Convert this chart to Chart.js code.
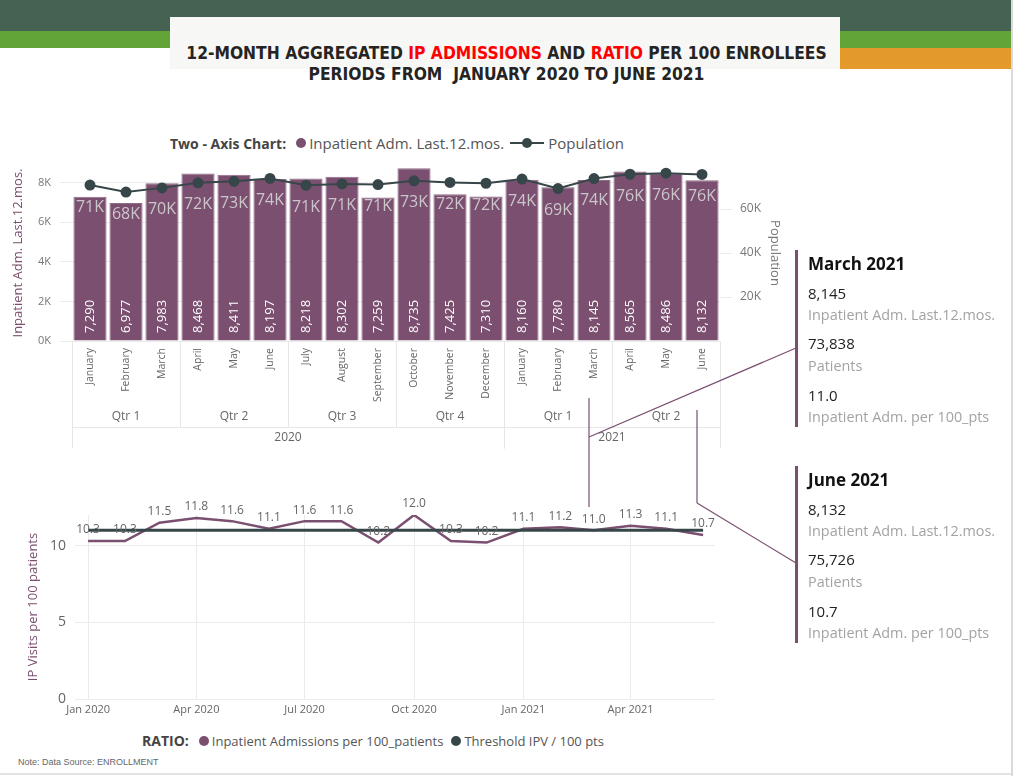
<!DOCTYPE html>
<html>
<head>
<meta charset="utf-8">
<script src="https://cdn.jsdelivr.net/npm/chart.js@4.4.1/dist/chart.umd.min.js"></script>
<style>
  body { margin: 0; width: 1013px; height: 776px; background: #fff; position: relative; overflow: hidden; font-family: "Open Sans", "Noto Sans", sans-serif; }
  .abs { position: absolute; }
  .band-dark { left: 0; top: 0; width: 1011px; height: 31px; background: #466253; }
  .band-green { left: 0; top: 31px; width: 1011px; height: 17px; background: #62a437; }
  .band-orange { left: 840px; top: 48px; width: 171px; height: 21px; background: #e39a2a; }
  .title-box { left: 170px; top: 17px; width: 670px; height: 52px; background: #f7f7f5; }
  .title { left: 0; width: 1013px; text-align: center; font-family: "Liberation Sans Narrow", "DejaVu Sans Condensed", sans-serif; font-weight: bold; font-size: 17.3px; color: #252423; white-space: nowrap; }
  .red { color: #ff0000; }
  .edge { left: 1011px; top: 0; width: 2px; height: 776px; background: #dadada; }
  .foot-line { left: 0; top: 773px; width: 1011px; height: 2px; background: #e3e3e3; }
  .legend { color: #555; white-space: nowrap; display: flex; align-items: center; }
  .legend b { color: #444; font-weight: 700; margin-right: 6px; }
  .dot { display: inline-block; width: 10px; height: 10px; border-radius: 50%; margin: 0 3px 0 4px; }
  .card-bar { width: 3px; background: #7b4f70; }
  .card-title { font-size: 17px; font-weight: 700; color: #111; white-space: nowrap; }
  .card-val { font-size: 15px; color: #222; white-space: nowrap; }
  .card-lab { font-size: 14.4px; color: #a3a3a3; white-space: nowrap; }
  .note { left: 18px; top: 757px; font-size: 9px; color: #666; font-family: "Liberation Sans", Arial, sans-serif; }
</style>
</head>
<body>
<div class="abs band-dark"></div>
<div class="abs band-green"></div>
<div class="abs band-orange"></div>
<div class="abs title-box"></div>
<div class="abs title" style="top:43px;">12-MONTH AGGREGATED <span class="red">IP ADMISSIONS</span> AND <span class="red">RATIO</span> PER 100 ENROLLEES</div>
<div class="abs title" style="top:64px;">PERIODS FROM &nbsp;JANUARY 2020 TO JUNE 2021</div>
<div class="abs edge"></div>

<div class="abs legend" style="left:170px; top:133px; font-size:15px;">
  <b style="font-size:14px;">Two - Axis Chart:</b>
  <span class="dot" style="background:#7b4f70;"></span>Inpatient Adm. Last.12.mos.
  <svg width="34" height="12" style="margin:0 4px 0 6px;"><line x1="0" y1="6" x2="34" y2="6" stroke="#374649" stroke-width="2"/><circle cx="17" cy="6" r="5" fill="#374649"/></svg>Population
</div>

<div class="abs" style="left:0; top:155px; width:790px; height:300px;"><canvas id="topChart"></canvas></div>
<div class="abs" style="left:0; top:495px; width:740px; height:230px;"><canvas id="ratioChart"></canvas></div>

<div class="abs legend" style="left:142px; top:731px; font-size:13px;">
  <b style="font-size:14px;">RATIO:</b>
  <span class="dot" style="background:#7b4f70;"></span>Inpatient Admissions per 100_patients
  <span class="dot" style="background:#374649; margin-left:8px;"></span>Threshold IPV / 100 pts
</div>
<div class="abs note">Note: Data Source: ENROLLMENT</div>
<div class="abs foot-line"></div>

<svg class="abs" style="left:0; top:0;" width="1013" height="776">
  <g stroke="#7b4f70" stroke-width="1.2" fill="none">
    <line x1="589" y1="398" x2="589" y2="507"/>
    <line x1="589" y1="437" x2="796" y2="348"/>
    <line x1="697" y1="410" x2="697" y2="503"/>
    <line x1="697" y1="503" x2="796" y2="563"/>
  </g>
</svg>

<div id="cards"></div>

<script>
// ---- data ----
const monthLabels = ['January', 'February', 'March', 'April', 'May', 'June', 'July', 'August', 'September', 'October', 'November', 'December',
                     'January', 'February', 'March', 'April', 'May', 'June'];
const monthNum = [1, 2, 3, 4, 5, 6, 7, 8, 9, 10, 11, 12, 1, 2, 3, 4, 5, 6];
const monthYear = [2020, 2020, 2020, 2020, 2020, 2020, 2020, 2020, 2020, 2020, 2020, 2020, 2021, 2021, 2021, 2021, 2021, 2021];
const monthQuarter = [1, 1, 1, 2, 2, 2, 3, 3, 3, 4, 4, 4, 1, 1, 1, 2, 2, 2];
const admissions = [7290, 6977, 7983, 8468, 8411, 8197, 8218, 8302, 7259, 8735, 7425, 7310, 8160, 7780, 8145, 8565, 8486, 8132];
const population = [70900, 67700, 69600, 71900, 72600, 73900, 70800, 71400, 71100, 72800, 72100, 71700, 73600, 69300, 73838, 75800, 76300, 75726];
const ratio = [10.3, 10.3, 11.5, 11.8, 11.6, 11.1, 11.6, 11.6, 10.2, 12.0, 10.3, 10.2, 11.1, 11.2, 11.0, 11.3, 11.1, 10.7];
const threshold = [11.0, 11.0, 11.0, 11.0, 11.0, 11.0, 11.0, 11.0, 11.0, 11.0, 11.0, 11.0, 11.0, 11.0, 11.0, 11.0, 11.0, 11.0];
const admTicks = [0, 2000, 4000, 6000, 8000];
const popTicks = [20000, 40000, 60000];
const ratioTicks = [0, 5, 10];
const dateTickMonths = [[2020, 1], [2020, 4], [2020, 7], [2020, 10], [2021, 1], [2021, 4]];
const dateTickLabels = ['Jan 2020', 'Apr 2020', 'Jul 2020', 'Oct 2020', 'Jan 2021', 'Apr 2021'];
const highlighted = [14, 17];   // March 2021, June 2021

const PURPLE = '#7b4f70';
const DARK = '#374649';
const GRID = '#ebebeb';
const FONT = '"Open Sans", "Noto Sans", sans-serif';

Chart.defaults.font.family = FONT;
Chart.defaults.animation = false;

function dayIndex(y, m) {
    return (Date.UTC(y, m - 1, 1) - Date.UTC(2020, 0, 1)) / 86400000;
}
function kFmt(v) { return Math.round(v / 1000) + 'K'; }
// keep the plot box where we put it
function noPad(s) { s.paddingTop = 0; s.paddingBottom = 0; s.paddingLeft = 0; s.paddingRight = 0; }

// ---- top chart: bars + population line ----
const barLabels = {
    id: 'barLabels',
    afterDatasetsDraw(chart) {
        const ctx = chart.ctx;
        const area = chart.chartArea;
        const bars = chart.getDatasetMeta(0).data;
        const pts = chart.getDatasetMeta(1).data;
        ctx.save();
        ctx.font = '13px ' + FONT;
        ctx.fillStyle = '#ffffff';
        ctx.textAlign = 'left';
        ctx.textBaseline = 'middle';
        bars.forEach((b, i) => {
            ctx.save();
            ctx.translate(b.x, area.bottom - 8);
            ctx.rotate(-Math.PI / 2);
            ctx.fillText(admissions[i].toLocaleString('en-US'), 0, 0);
            ctx.restore();
        });
        ctx.font = '16px ' + FONT;
        ctx.fillStyle = '#cbc6ca';
        ctx.textAlign = 'center';
        pts.forEach((p, i) => {
            ctx.fillText(kFmt(population[i]), p.x, p.y + 22);
        });
        ctx.restore();
    }
};

const hierarchyAxis = {
    id: 'hierarchyAxis',
    afterDraw(chart) {
        const ctx = chart.ctx;
        const x = chart.scales.x;
        const area = chart.chartArea;
        const half = (x.getPixelForValue(1) - x.getPixelForValue(0)) / 2;
        const top = area.bottom;
        const qBottom = top + 86;
        const yBottom = top + 107;
        ctx.save();
        ctx.strokeStyle = '#e6e6e6';
        ctx.lineWidth = 1;
        ctx.fillStyle = '#666';
        ctx.font = '12px ' + FONT;
        ctx.textAlign = 'center';
        ctx.textBaseline = 'middle';
        const groups = (keyFn) => {
            const out = [];
            monthLabels.forEach((m, i) => {
                const k = keyFn(i);
                if (out.length && out[out.length - 1].key === k) out[out.length - 1].end = i;
                else out.push({ key: k, start: i, end: i });
            });
            return out;
        };
        const qs = groups(i => monthYear[i] + '-' + monthQuarter[i]);
        const ys = groups(i => monthYear[i]);
        const line = (x1, y1, x2, y2) => {
            ctx.beginPath();
            ctx.moveTo(Math.round(x1) + 0.5, Math.round(y1) + 0.5);
            ctx.lineTo(Math.round(x2) + 0.5, Math.round(y2) + 0.5);
            ctx.stroke();
        };
        qs.forEach(g => {
            const l = x.getPixelForValue(g.start) - half;
            const r = x.getPixelForValue(g.end) + half;
            line(l, top, l, qBottom);
            line(r, top, r, qBottom);
            ctx.fillText('Qtr ' + monthQuarter[g.start], (l + r) / 2, top + 76);
        });
        line(area.left, qBottom, area.right, qBottom);
        ys.forEach(g => {
            const l = x.getPixelForValue(g.start) - half;
            const r = x.getPixelForValue(g.end) + half;
            line(l, qBottom, l, yBottom);
            line(r, qBottom, r, yBottom);
            ctx.fillText(String(monthYear[g.start]), (l + r) / 2, top + 97);
        });
        ctx.restore();
    }
};

new Chart(document.getElementById('topChart'), {
    type: 'bar',
    data: {
        labels: monthLabels,
        datasets: [
            {
                type: 'bar', label: 'Inpatient Adm. Last.12.mos.', data: admissions, yAxisID: 'y',
                backgroundColor: PURPLE, borderColor: '#8f6c86', borderWidth: 1,
                barPercentage: 0.92, categoryPercentage: 1.0, order: 2
            },
            {
                type: 'line', label: 'Population', data: population, yAxisID: 'y1',
                borderColor: DARK, backgroundColor: DARK, borderWidth: 2,
                pointRadius: 4.5, pointBackgroundColor: DARK, tension: 0, order: 1
            }
        ]
    },
    options: {
        responsive: true,
        maintainAspectRatio: false,
        layout: { padding: { top: 10, left: 0, right: 0, bottom: 0 } },
        plugins: { legend: { display: false }, tooltip: { enabled: false } },
        scales: {
            x: {
                grid: { display: false, drawTicks: false },
                border: { display: false },
                ticks: { minRotation: 90, maxRotation: 90, padding: 7, color: '#666', font: { size: 10.5 } },
                afterFit(s) { s.height = 114; noPad(s); }
            },
            y: {
                position: 'left', min: 0, max: 8900,
                afterBuildTicks(s) { s.ticks = admTicks.map(v => ({ value: v })); },
                ticks: { callback: v => (v / 1000) + 'K', color: '#777', font: { size: 11 }, padding: 9 },
                grid: { color: GRID, tickLength: 12 },
                border: { display: false },
                title: { display: true, text: 'Inpatient Adm. Last.12.mos.', color: PURPLE, font: { size: 13 }, padding: { top: 10, bottom: 0 } },
                afterFit(s) { s.width = 72; noPad(s); }
            },
            y1: {
                position: 'right', min: 0, max: 80000,
                afterBuildTicks(s) { s.ticks = popTicks.map(v => ({ value: v })); },
                ticks: { callback: v => kFmt(v), color: '#777', font: { size: 12 }, padding: 8 },
                grid: { drawOnChartArea: false, color: GRID, tickLength: 12 },
                border: { display: false },
                title: { display: true, text: 'Population', color: '#777', font: { size: 13 }, padding: { top: 7, bottom: 0 } },
                afterFit(s) { s.width = 70; noPad(s); }
            }
        }
    },
    plugins: [barLabels, hierarchyAxis]
});

// ---- bottom chart: ratio per 100 ----
const ratioPoints = ratio.map((v, i) => ({ x: dayIndex(monthYear[i], monthNum[i]), y: v }));
const thresholdPoints = threshold.map((v, i) => ({ x: dayIndex(monthYear[i], monthNum[i]), y: v }));
const dateTickValues = dateTickMonths.map(d => dayIndex(d[0], d[1]));

const ratioLabels = {
    id: 'ratioLabels',
    afterDatasetsDraw(chart) {
        const ctx = chart.ctx;
        const pts = chart.getDatasetMeta(1).data;
        ctx.save();
        ctx.font = '12px ' + FONT;
        ctx.fillStyle = '#666';
        ctx.textAlign = 'center';
        ctx.textBaseline = 'middle';
        pts.forEach((p, i) => ctx.fillText(ratio[i].toFixed(1), p.x, p.y - 11));
        ctx.restore();
    }
};

new Chart(document.getElementById('ratioChart'), {
    type: 'line',
    data: {
        datasets: [
            { label: 'Threshold IPV / 100 pts', data: thresholdPoints, borderColor: DARK, borderWidth: 3, pointRadius: 0, tension: 0, order: 1 },
            { label: 'Inpatient Admissions per 100_patients', data: ratioPoints, borderColor: PURPLE, borderWidth: 2.5, pointRadius: 0, tension: 0, order: 2 }
        ]
    },
    options: {
        responsive: true,
        maintainAspectRatio: false,
        layout: { padding: { top: 20, right: 25, left: 0, bottom: 0 } },
        plugins: { legend: { display: false }, tooltip: { enabled: false } },
        scales: {
            x: {
                type: 'linear', min: -11, max: 527,
                afterBuildTicks(s) { s.ticks = dateTickValues.map(v => ({ value: v })); },
                ticks: { callback: v => dateTickLabels[dateTickValues.indexOf(v)], color: '#666', font: { size: 11 }, padding: 4, maxRotation: 0 },
                grid: { color: GRID, drawTicks: false },
                border: { display: false },
                afterFit(s) { s.height = 26; noPad(s); }
            },
            y: {
                min: 0, max: 12,
                afterBuildTicks(s) { s.ticks = ratioTicks.map(v => ({ value: v })); },
                ticks: { color: '#666', font: { size: 14 }, padding: 9 },
                grid: { color: GRID, drawTicks: false },
                border: { display: false },
                title: { display: true, text: 'IP Visits per 100 patients', color: PURPLE, font: { size: 13 }, padding: { top: 25, bottom: 0 } },
                afterFit(s) { s.width = 75; noPad(s); }
            }
        }
    },
    plugins: [ratioLabels]
});

// ---- detail cards ----
const monthFull = ['January', 'February', 'March', 'April', 'May', 'June', 'July', 'August', 'September', 'October', 'November', 'December'];
const cardTops = [250, 466];
let html = '';
highlighted.forEach((idx, c) => {
    const t = cardTops[c];
    html += `<div class="abs card-bar" style="left:795px; top:${t}px; height:177px;"></div>`;
    html += `<div class="abs card-title" style="left:808px; top:${t + 2}px;">${monthFull[monthNum[idx] - 1]} ${monthYear[idx]}</div>`;
    html += `<div class="abs card-val" style="left:808px; top:${t + 33}px;">${admissions[idx].toLocaleString('en-US')}</div>`;
    html += `<div class="abs card-lab" style="left:808px; top:${t + 55}px;">Inpatient Adm. Last.12.mos.</div>`;
    html += `<div class="abs card-val" style="left:808px; top:${t + 83}px;">${population[idx].toLocaleString('en-US')}</div>`;
    html += `<div class="abs card-lab" style="left:808px; top:${t + 106}px;">Patients</div>`;
    html += `<div class="abs card-val" style="left:808px; top:${t + 135}px;">${ratio[idx].toFixed(1)}</div>`;
    html += `<div class="abs card-lab" style="left:808px; top:${t + 157}px;">Inpatient Adm. per 100_pts</div>`;
});
document.getElementById('cards').innerHTML = html;
</script>
</body>
</html>
